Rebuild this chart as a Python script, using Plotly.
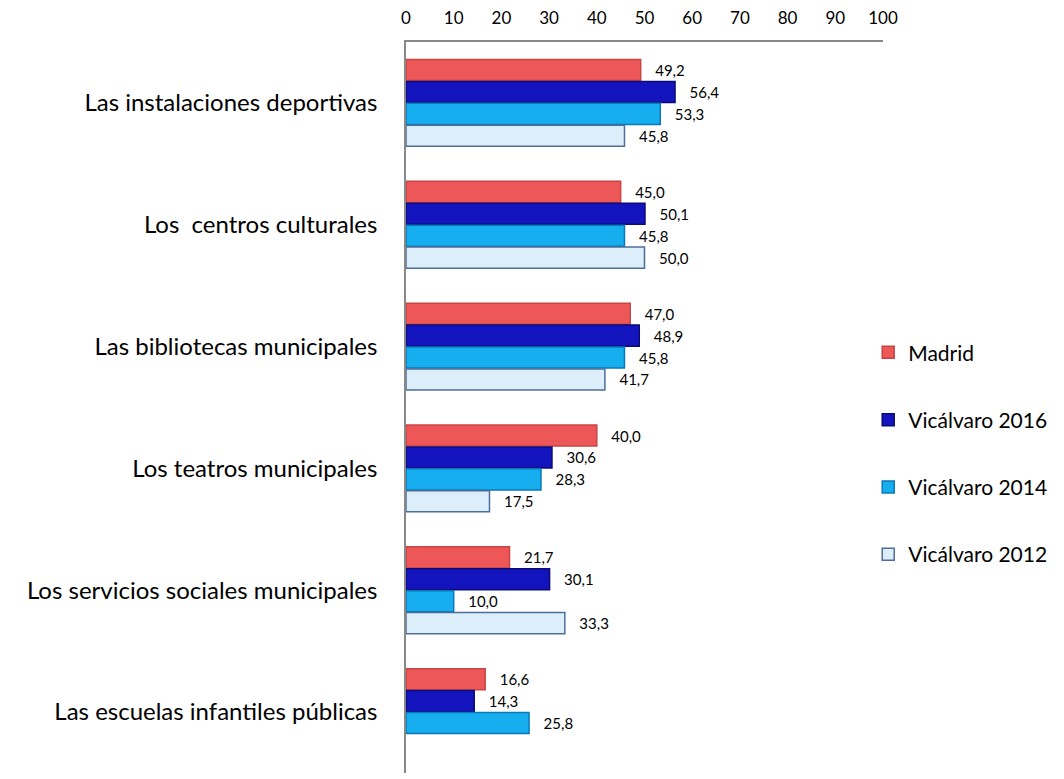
import plotly.graph_objects as go

categories = [
    "Las instalaciones deportivas",
    "Los  centros culturales",
    "Las bibliotecas municipales",
    "Los teatros municipales",
    "Los servicios sociales municipales",
    "Las escuelas infantiles públicas",
]
series_names = ["Madrid", "Vicálvaro 2016", "Vicálvaro 2014", "Vicálvaro 2012"]
madrid = [49.2, 45.0, 47.0, 40.0, 21.7, 16.6]
vic2016 = [56.4, 50.1, 48.9, 30.6, 30.1, 14.3]
vic2014 = [53.3, 45.8, 45.8, 28.3, 10.0, 25.8]
vic2012 = [45.8, 50.0, 41.7, 17.5, 33.3, None]
x_ticks = [0, 10, 20, 30, 40, 50, 60, 70, 80, 90, 100]

fills = ["#EE5757", "#1414BE", "#16AEEE", "#DDEEFB"]
lines = ["#C94444", "#0A0A78", "#0A78B8", "#4E6E9A"]

fig = go.Figure()
for name, vals, fc, lc in zip(series_names, [madrid, vic2016, vic2014, vic2012], fills, lines):
    txt = ["" if v is None else "\u00a0\u00a0\u00a0" + f"{v:.1f}".replace(".", ",") for v in vals]
    fig.add_trace(go.Bar(
        y=categories, x=vals, name=name, orientation="h",
        marker=dict(color=fc, line=dict(color=lc, width=1.5)),
        text=txt, textposition="outside", cliponaxis=False,
        textfont=dict(family="Lato", size=15, color="#000000"),
        legendgroup=name,
    ))

fig.update_layout(
    width=1056, height=771,
    margin=dict(l=398, r=181, t=34, b=6, autoexpand=False),
    paper_bgcolor="white", plot_bgcolor="white",
    barmode="group", bargap=0.28, bargroupgap=0.04,
    font=dict(family="Lato", color="#000000"),
    showlegend=True,
    legend=dict(x=0.969, y=0.603, xanchor="left", yanchor="top",
                font=dict(family="Lato", size=21, color="#000000"),
                tracegroupgap=37, itemwidth=30, traceorder="grouped"),
    xaxis=dict(range=[0, 100], tickvals=x_ticks, side="top", showgrid=False,
               zeroline=False, showline=True, linecolor="#888888", linewidth=1.5,
               ticks="", tickfont=dict(family="Lato", size=17), ticklabelstandoff=9,
               automargin=False),
    yaxis=dict(autorange="reversed", showgrid=False, zeroline=False, showline=True,
               linecolor="#888888", linewidth=1.5, ticks="",
               tickfont=dict(family="Lato", size=24), ticklabelstandoff=22,
               automargin=False),
)
fig.write_html("out.html")
